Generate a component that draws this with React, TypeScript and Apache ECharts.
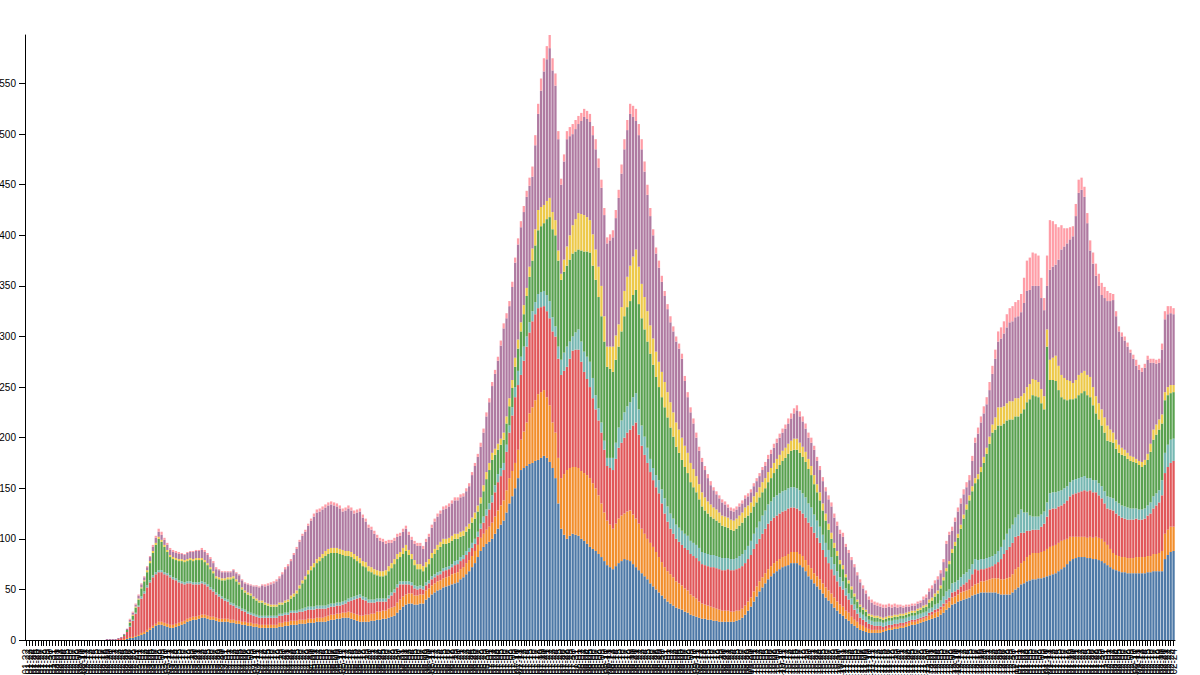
import { useEffect, useRef } from "react";
import * as echarts from "echarts";

// Category labels: one per day
const START_DATE = Date.UTC(2020, 0, 22);
const DAY_COUNT = 400;
const categories: string[] = Array.from({ length: DAY_COUNT }, (_, i) =>
  new Date(START_DATE + i * 86400000).toISOString().slice(0, 10)
);

const seriesNames = ["Group 1", "Group 2", "Group 3", "Group 4", "Group 5", "Group 6", "Group 7", "Group 8"];
const seriesColors = ["#4e79a7", "#f28e2c", "#e15759", "#76b7b2", "#59a14f", "#edc949", "#af7aa1", "#ff9da7"];

const blue = [
  0,0,0,0,0,0,0,0,0,0,0,0,0,0,0,0,0,0,0,0,
  0,0,0,0,0,0,0,0,0,0,0,0,0,0,0,1,2,2,3,4,
  5,6,8,10,12,14,15,15,14,13,12,12,13,14,15,16,18,19,20,20,
  21,22,22,21,20,20,19,18,18,18,18,17,17,16,16,15,15,14,14,13,
  13,12,12,12,12,12,12,12,13,13,14,14,15,15,15,16,16,16,17,17,
  17,18,18,18,18,19,20,20,21,21,22,22,22,21,20,19,18,18,18,18,
  19,19,20,20,21,21,22,23,24,27,30,33,35,36,36,35,35,36,36,40,
  42,45,47,49,50,52,53,54,55,56,57,60,62,65,68,72,76,82,88,92,
  95,97,100,105,110,114,118,126,135,142,150,160,168,170,172,174,175,177,178,180,
  182,180,176,170,160,135,110,104,100,103,105,104,103,100,98,95,92,90,88,85,
  82,78,74,72,70,73,76,78,80,79,78,75,72,69,66,63,60,56,53,50,
  47,44,41,38,36,34,32,31,30,28,27,25,24,23,22,21,21,20,20,19,
  19,18,18,18,18,18,18,19,20,22,25,29,33,38,43,48,52,56,60,63,
  66,68,70,72,73,74,76,76,76,74,72,68,63,60,56,53,50,46,42,39,
  36,32,29,26,24,21,19,16,14,12,10,9,8,7,7,7,7,7,8,9,
  10,10,11,11,12,12,13,14,15,15,16,17,18,19,20,21,22,23,25,27,
  30,32,35,36,38,39,40,41,42,44,45,46,47,47,47,47,47,47,46,45,
  45,45,45,47,50,52,55,56,58,59,60,60,61,61,62,63,64,65,66,68,
  70,72,75,78,80,81,82,82,82,81,81,80,80,79,78,76,74,72,70,69,
  68,67,67,66,66,66,66,66,66,66,67,67,68,68,68,68,80,84,87,88,
];

const orange = [
  0,0,0,0,0,0,0,0,0,0,0,0,0,0,0,0,0,0,0,0,
  0,0,0,0,0,0,0,0,0,0,0,0,0,0,1,1,1,1,1,1,
  2,2,2,2,2,2,3,3,3,3,3,3,3,3,3,3,3,3,3,3,
  3,3,3,3,3,3,3,3,3,3,3,3,3,3,3,3,3,3,3,3,
  3,3,3,3,3,3,3,3,4,4,4,4,4,4,4,4,4,4,4,4,
  4,4,4,4,5,5,5,5,5,5,5,5,6,6,6,6,6,6,7,7,
  7,7,8,8,8,8,9,9,9,10,10,10,10,10,10,9,9,9,9,9,
  9,9,9,9,9,9,9,9,10,10,10,10,10,11,11,11,12,12,13,13,
  14,15,16,17,18,19,20,22,25,25,25,28,30,36,43,50,55,60,65,65,
  65,60,56,45,45,45,50,60,68,67,66,67,67,67,67,68,68,65,62,58,
  53,48,44,42,40,42,44,45,45,48,50,49,48,46,44,42,40,40,39,37,
  35,33,31,30,29,28,26,25,24,23,22,20,19,18,16,15,14,14,13,13,
  12,12,11,11,11,10,10,10,9,9,9,9,9,10,10,10,10,10,10,10,
  10,10,10,10,10,11,11,11,11,11,11,11,11,11,10,10,10,10,10,10,
  10,10,9,9,9,8,8,7,6,6,5,5,4,4,3,3,3,3,2,2,
  2,2,2,2,2,2,3,3,3,3,3,3,3,3,4,4,5,5,5,6,
  6,6,7,7,7,8,8,8,8,9,10,10,11,11,12,13,14,14,15,15,
  15,16,17,18,20,20,21,22,24,25,26,26,25,26,26,27,28,28,28,28,
  28,27,25,24,22,21,20,20,20,20,21,21,22,22,22,21,20,18,16,15,
  15,15,15,15,15,15,16,16,16,16,16,16,17,17,18,20,25,25,25,24,
];

const red = [
  0,0,0,0,0,0,0,0,0,0,0,0,0,0,0,0,0,0,0,0,
  0,0,0,0,0,0,0,0,0,0,0,0,1,2,3,6,10,16,22,28,
  34,38,42,45,48,49,49,49,48,48,47,45,43,40,38,36,35,34,32,32,
  31,31,30,29,27,25,23,22,20,18,17,15,14,13,12,11,10,9,8,8,
  7,7,7,7,7,7,7,7,7,7,7,7,8,8,8,8,8,9,9,9,
  9,9,9,9,8,8,8,8,8,8,8,9,10,12,14,16,18,16,14,12,
  11,11,10,10,9,9,10,12,14,15,15,12,10,9,8,7,6,6,5,5,
  5,6,6,6,6,7,7,7,7,8,8,8,8,8,8,8,7,8,9,11,
  14,17,20,24,28,29,30,38,45,55,65,64,64,70,75,80,85,85,85,84,
  83,85,86,90,95,98,102,102,102,108,115,116,117,108,100,95,90,84,78,74,
  70,62,54,56,58,64,70,72,75,78,80,88,95,88,82,78,75,70,66,64,
  63,58,53,49,45,43,42,41,40,40,40,40,40,40,40,39,39,39,39,40,
  40,40,40,40,41,41,41,41,42,42,42,42,42,42,42,42,43,44,45,45,
  45,45,45,45,45,45,44,44,43,43,42,42,42,41,40,38,36,33,30,27,
  24,22,20,18,17,15,13,12,10,8,7,6,6,5,5,4,4,4,3,3,
  3,3,3,3,3,3,2,2,2,2,2,2,2,2,3,3,3,3,3,3,
  4,4,5,5,5,6,7,8,10,12,15,13,12,12,12,12,12,14,16,20,
  25,28,30,31,32,31,30,28,26,24,23,23,23,25,27,32,37,37,36,36,
  35,36,38,40,42,43,44,45,46,46,46,45,44,42,40,38,36,39,42,41,
  40,39,38,38,38,38,38,37,37,38,40,42,45,48,50,55,60,62,63,65,
];

const teal = [
  0,0,0,0,0,0,0,0,0,0,0,0,0,0,0,0,0,0,0,0,
  0,0,0,0,0,0,0,0,0,0,0,0,0,0,0,0,1,1,1,1,
  2,2,2,2,2,2,2,2,2,2,2,2,2,2,2,2,2,2,2,2,
  2,2,2,2,2,2,2,2,2,2,2,2,2,2,2,2,2,2,2,2,
  2,2,2,2,2,2,2,2,2,2,2,2,2,2,2,2,3,3,3,3,
  3,3,3,3,3,3,3,3,3,3,3,3,3,3,3,3,3,3,3,3,
  3,3,3,3,3,3,3,3,3,3,3,3,3,3,3,3,3,3,3,3,
  3,3,3,3,3,3,3,3,3,4,4,4,4,4,4,5,5,5,5,6,
  6,6,7,7,8,8,7,7,7,8,10,14,18,14,10,10,10,12,14,15,
  15,16,17,14,10,12,15,18,20,17,14,17,20,20,20,22,25,20,14,12,
  10,9,8,10,12,16,20,22,25,26,27,28,29,25,20,18,15,13,12,12,
  13,14,15,15,15,15,14,14,14,14,14,13,13,13,13,12,12,12,12,12,
  12,12,12,12,11,11,11,11,12,12,13,13,14,15,16,17,18,18,19,19,
  20,20,20,20,20,20,20,20,20,20,20,20,19,19,18,17,16,15,14,13,
  12,11,10,9,8,7,6,6,5,5,5,5,5,4,4,4,4,4,4,4,
  4,4,4,4,4,4,4,4,4,4,4,4,4,4,4,4,5,5,6,7,
  8,8,9,9,9,9,10,10,10,10,10,10,10,10,10,10,10,10,11,12,
  14,16,18,18,19,21,23,20,18,15,13,13,13,12,12,14,16,16,16,15,
  15,15,14,14,14,14,14,14,14,13,12,12,12,12,12,12,12,12,12,12,
  12,12,12,12,11,11,10,10,10,10,10,11,12,12,12,15,20,22,23,22,
];

const green = [
  0,0,0,0,0,0,0,0,0,0,0,0,0,0,0,0,0,0,0,0,
  0,0,0,0,0,0,0,0,0,0,0,0,0,0,1,2,3,4,5,6,
  8,10,13,17,22,27,31,28,25,21,18,18,18,19,20,20,20,21,21,22,
  22,21,20,19,18,16,14,15,16,18,20,23,25,24,22,19,17,17,17,15,
  14,13,13,11,10,9,9,9,9,9,10,11,12,14,17,21,25,28,32,36,
  39,42,44,47,49,50,50,50,49,48,46,44,42,40,37,34,31,30,30,28,
  27,25,23,22,22,23,24,24,25,25,24,27,30,26,23,20,17,16,15,15,
  16,18,20,22,24,24,23,23,23,22,21,20,19,19,19,20,20,20,20,25,
  30,33,35,30,24,23,23,21,19,19,20,22,25,32,40,45,50,56,63,65,
  67,75,83,87,90,85,79,80,80,81,82,80,79,90,99,104,108,111,114,110,
  105,98,90,88,85,82,80,88,95,98,100,101,102,104,106,106,105,104,102,97,
  92,91,90,88,85,81,77,74,70,66,62,58,55,52,48,45,42,40,38,36,
  35,34,32,31,30,29,28,29,30,31,32,30,28,27,25,24,23,22,22,23,
  24,26,28,30,32,34,36,37,38,37,36,35,34,32,30,28,26,24,22,20,
  18,16,15,13,12,11,10,9,8,7,6,5,5,4,4,4,4,3,3,3,
  3,3,3,3,3,3,3,3,3,3,4,4,5,5,6,7,8,10,12,16,
  20,25,30,36,42,48,55,62,68,72,75,80,86,95,103,112,122,123,124,120,
  115,112,108,104,100,97,95,102,109,115,120,119,118,110,101,154,112,111,110,100,
  92,88,85,82,80,80,82,83,84,82,80,74,66,63,60,58,55,55,55,52,
  50,50,50,48,47,46,45,44,42,43,45,50,56,58,60,56,52,49,46,46,
];

const yellow = [
  0,0,0,0,0,0,0,0,0,0,0,0,0,0,0,0,0,0,0,0,
  0,0,0,0,0,0,0,0,0,0,0,0,0,0,0,0,1,1,1,1,
  1,1,2,2,2,2,2,2,2,2,2,2,2,2,2,2,2,2,2,2,
  2,2,2,2,2,2,2,2,2,2,2,2,2,2,2,2,2,2,2,2,
  2,2,2,2,2,2,2,2,2,2,2,2,3,3,3,3,3,3,4,4,
  4,4,4,4,5,5,5,5,5,5,5,5,5,5,5,5,5,5,5,5,
  5,5,5,5,5,5,5,5,5,5,5,6,6,5,5,5,5,5,5,5,
  5,5,5,5,5,5,5,5,5,5,5,5,5,5,5,5,6,6,6,6,
  7,7,7,6,6,6,7,7,8,8,9,9,9,9,8,10,12,16,20,19,
  18,18,19,17,15,10,6,12,19,24,28,32,36,36,36,34,32,31,30,30,
  30,25,20,22,25,24,22,24,25,30,35,38,40,37,34,32,30,28,26,25,
  25,25,25,25,25,24,24,23,22,21,20,19,18,16,15,14,13,12,12,11,
  11,10,10,10,10,10,10,10,10,10,10,10,10,10,10,10,10,10,10,10,
  10,10,10,10,10,10,10,11,11,10,10,10,10,9,9,8,8,7,7,6,
  6,5,5,4,4,3,3,3,3,2,2,2,2,2,2,2,2,2,2,2,
  2,2,2,2,2,2,2,2,2,2,2,2,2,2,3,3,3,3,3,3,
  3,3,4,4,4,4,4,5,5,5,5,5,5,6,6,7,8,12,18,18,
  17,17,18,18,18,18,17,16,15,15,16,16,15,14,13,17,20,22,25,24,
  22,21,20,18,16,18,20,20,20,20,20,18,17,16,16,15,15,12,10,9,
  8,7,6,6,5,5,4,4,5,5,6,8,10,10,10,9,8,8,8,7,
];

const purple = [
  0,0,0,0,0,0,0,0,0,0,0,0,0,0,0,0,0,0,0,0,
  0,0,0,0,0,0,0,0,1,1,1,1,1,1,1,1,2,2,2,3,
  3,3,3,4,4,5,5,5,5,5,5,5,5,5,5,5,6,6,7,7,
  7,8,8,8,8,8,7,7,6,6,5,5,6,6,7,7,7,8,8,10,
  12,13,15,16,18,20,21,23,24,28,31,33,34,38,41,43,44,44,44,45,
  46,46,45,44,43,43,43,42,41,40,38,40,42,41,40,43,46,43,40,38,
  37,35,32,30,29,26,23,20,18,17,16,16,16,15,14,16,18,18,17,20,
  22,25,27,28,28,29,30,31,32,33,33,34,34,35,37,42,46,48,50,52,
  55,60,66,74,82,92,103,97,91,92,94,94,94,92,90,80,71,83,95,115,
  132,140,148,140,133,110,88,97,106,98,90,89,88,92,97,97,97,98,99,98,
  97,100,102,105,108,116,125,132,140,145,150,138,127,130,133,124,115,108,102,97,
  93,89,85,82,79,80,80,80,78,64,55,50,45,38,33,30,27,23,19,17,
  15,14,13,12,10,9,9,9,9,9,9,9,10,10,11,11,12,12,13,14,
  15,16,17,18,19,20,22,25,28,26,25,23,21,23,25,23,22,22,22,24,
  26,25,25,26,28,27,27,26,26,24,22,19,16,14,12,11,10,10,10,9,
  9,8,8,7,7,6,6,5,5,5,5,5,6,7,8,9,10,11,12,15,
  24,26,18,20,22,21,20,17,15,25,35,40,44,43,43,46,50,58,65,68,
  72,75,78,79,80,81,83,89,95,93,92,93,95,90,85,43,89,90,90,105,
  124,130,135,140,145,162,180,181,172,150,125,122,119,116,113,118,123,127,131,122,
  112,110,108,105,102,97,92,90,89,91,93,80,66,60,56,64,72,72,71,70,
];

const pink = [
  0,0,0,0,0,0,0,0,0,0,0,0,0,0,0,0,0,0,0,0,
  0,0,0,0,0,0,0,0,0,0,0,0,0,0,0,0,1,1,1,1,
  1,1,1,1,2,2,3,3,2,2,2,2,2,2,1,1,1,1,1,1,
  1,2,2,2,2,2,2,1,1,1,1,1,1,1,1,1,1,1,1,1,
  1,1,1,2,2,2,2,2,2,2,2,2,2,2,2,2,2,2,2,2,
  3,3,3,3,3,3,3,3,3,3,3,3,3,3,3,3,3,3,3,3,
  3,3,3,3,3,3,3,3,3,3,3,3,3,3,3,3,3,3,3,3,
  3,3,3,3,3,3,3,3,3,3,3,3,3,3,3,3,3,3,4,4,
  4,4,4,4,4,5,5,5,5,5,5,6,6,6,6,8,10,10,10,12,
  13,13,13,12,12,8,6,7,8,9,10,9,8,8,8,8,8,9,10,9,
  8,7,6,6,7,8,8,9,10,10,10,11,12,11,10,10,10,8,6,6,
  7,6,5,5,6,5,5,5,5,5,5,5,5,5,4,4,4,4,4,3,
  3,3,3,3,3,3,3,3,3,3,3,3,3,3,3,3,3,4,4,4,
  4,4,4,4,4,5,5,5,5,5,5,5,5,5,4,4,4,4,4,4,
  4,4,4,4,4,3,3,3,3,3,3,3,3,3,3,3,3,3,3,3,
  3,3,3,3,2,2,2,2,2,2,2,2,3,3,3,3,3,3,3,3,
  3,3,4,4,4,5,5,5,5,5,5,6,6,7,7,8,8,9,10,11,
  12,13,14,15,15,16,18,25,30,32,33,32,30,20,12,30,49,45,40,32,
  24,18,15,12,10,12,13,12,10,10,10,11,12,12,12,11,10,8,6,5,
  5,4,4,4,3,4,6,5,4,4,4,4,4,4,4,6,8,8,7,6,
];

const seriesData = [blue, orange, red, teal, green, yellow, purple, pink];

export default function App() {
  const ref = useRef<HTMLDivElement | null>(null);

  useEffect(() => {
    if (!ref.current) return;
    const chart = echarts.init(ref.current, undefined, { renderer: "svg" });
    const totals = categories.map((_, i) => seriesData.reduce((s, arr) => s + (arr[i] || 0), 0));
    const maxTotal = Math.max(...totals);

    chart.setOption({
      animation: false,
      grid: {
        left: 25,
        right: 25,
        top: 35,
        bottom: 35,
        containLabel: false,
        outerBoundsMode: "none",
      },
      tooltip: { show: false },
      xAxis: {
        type: "category",
        data: categories,
        axisLine: { show: true, lineStyle: { color: "#000", width: 1 } },
        axisTick: { show: true, alignWithLabel: true, interval: 0, length: 6, lineStyle: { color: "#000", width: 1 } },
        axisLabel: {
          interval: 0,
          rotate: 90,
          fontSize: 10,
          color: "#000",
          fontFamily: "sans-serif",
          margin: 9,
          hideOverlap: false,
        },
      },
      yAxis: {
        type: "value",
        min: 0,
        max: maxTotal,
        interval: 50,
        splitLine: { show: false },
        axisLine: { show: true, lineStyle: { color: "#000", width: 1 } },
        axisTick: { show: true, length: 6, lineStyle: { color: "#000", width: 1 } },
        axisLabel: {
          fontSize: 10,
          color: "#000",
          fontFamily: "sans-serif",
          margin: 9,
          showMaxLabel: false,
        },
      },
      series: seriesData.map((d, k) => ({
        type: "bar",
        name: seriesNames[k],
        stack: "total",
        data: d,
        barCategoryGap: "20%",
        itemStyle: { color: seriesColors[k] },
        emphasis: { disabled: true },
      })),
    });

    return () => {
      chart.dispose();
    };
  }, []);

  return (
    <div
      ref={ref}
      style={{ position: "absolute", left: 0, top: 0, width: 1200, height: 675, background: "#fff" }}
    />
  );
}
